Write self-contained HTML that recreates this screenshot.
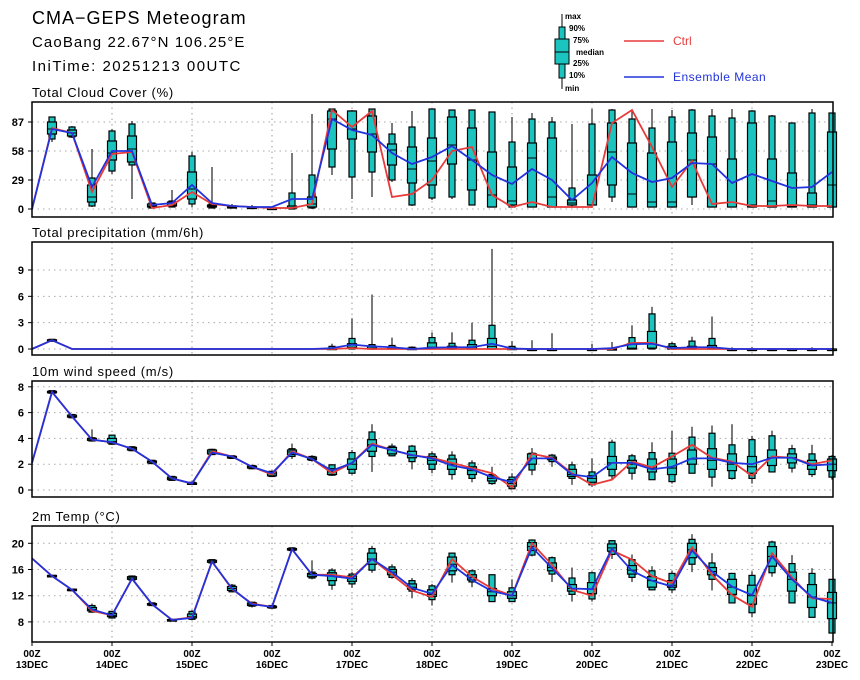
<!DOCTYPE html>
<html><head><meta charset="utf-8"><style>
body{margin:0;background:#fff;width:860px;height:680px;overflow:hidden}
svg{display:block;font-family:"Liberation Sans",sans-serif}
</style></head><body>
<svg id="c" width="860" height="680" viewBox="0 0 860 680">
<text x="32" y="24" font-size="18" letter-spacing="1">CMA−GEPS Meteogram</text>
<text x="32" y="47" font-size="15" letter-spacing="1.1">CaoBang 22.67°N 106.25°E</text>
<text x="32" y="71" font-size="15" letter-spacing="1.5">IniTime: 20251213 00UTC</text>
<g font-size="8" font-weight="bold">
<line x1="562" y1="14" x2="562" y2="89" stroke="#000"/>
<rect x="559" y="27" width="6" height="51" fill="#1cc4c0" stroke="#000"/>
<rect x="555" y="39" width="14" height="25" fill="#1cc4c0" stroke="#000"/>
<line x1="555" y1="52" x2="569" y2="52" stroke="#000"/>
<text x="565" y="19">max</text><text x="569" y="31">90%</text><text x="573" y="43">75%</text>
<text x="576" y="55">median</text><text x="573" y="66">25%</text><text x="569" y="78">10%</text><text x="565" y="91">min</text>
<line x1="624" y1="41" x2="664" y2="41" stroke="#e83a3a" stroke-width="1.5"/>
<text x="673" y="45" font-size="12" font-weight="normal" fill="#e83a3a">Ctrl</text>
<line x1="624" y1="77" x2="664" y2="77" stroke="#2233dd" stroke-width="1.5"/>
<text x="673" y="81" font-size="12" font-weight="normal" fill="#2233dd" letter-spacing="0.5">Ensemble Mean</text>
</g>
</svg>
<script>
const days=["13DEC","14DEC","15DEC","16DEC","17DEC","18DEC","19DEC","20DEC","21DEC","22DEC","23DEC"];
const cloudTicks=[0,29,58,87];
const precipTicks=[0,3,6,9];
const windTicks=[0,2,4,6,8];
const tempTicks=[8,12,16,20];
const cloudCtrl=[0,81,76,17,55,57,1,4,17,5,3,2,1,1,5,99,82,98,12,15,29,58,62,14,2,7,2,2,2,86,99,62,22,48,5,7,3,3,4,3,3];
const cloudMean=[0,80,76,22,58,58,4,6,24,6,3,2,2,10,10,90,79,74,56,45,52,63,49,34,25,40,29,9,26,52,36,27,31,46,45,26,35,28,21,22,37];
const cloudMin=[null,67,71,2,35,10,1,2,2,1,1,1,0,0,0,34,10,12,27,3,9,10,4,2,2,2,2,2,2,7,2,2,2,4,2,2,2,2,2,2,2];
const cloudP10=[null,70,72,3,38,44,1,2,5,1,1,1,0,0,1,42,32,37,29,4,11,12,4,2,2,2,2,4,4,12,2,2,2,12,2,2,2,2,2,2,2];
const cloudP25=[null,75,73,7,49,47,2,3,10,2,1,1,1,1,2,60,70,57,44,26,24,45,19,2,4,2,2,4,4,24,2,2,2,12,2,2,2,2,2,2,2];
const cloudMed=[null,80,76,12,56,60,3,4,20,3,2,1,1,1,5,90,80,75,59,40,48,64,49,14,8,51,12,6,4,57,15,7,7,49,45,2,4,8,3,4,24];
const cloudP75=[null,87,79,24,68,73,5,7,37,4,3,2,1,3,12,98,98,93,65,62,71,92,81,57,42,66,71,9,34,86,66,56,67,76,72,50,86,50,36,16,77];
const cloudP90=[null,92,82,31,78,85,6,8,53,5,3,2,1,16,34,100,98,100,75,82,100,99,99,97,67,90,87,21,85,99,90,81,92,99,93,91,98,93,86,96,96];
const cloudMax=[null,92,83,60,80,88,6,19,57,42,5,4,1,56,95,100,99,100,86,98,100,99,99,97,92,96,92,85,100,100,99,100,99,100,100,100,99,94,86,100,96];
const precipCtrl=[0,1.0,0,0,0,0,0,0,0,0,0,0,0,0,0,0,0.1,0,0,0,0,0,0,0,0,0,0,0,0,0,0.7,0.7,0,0,0,0,0,0,0,0,0];
const precipMean=[0,1.0,0,0,0,0,0,0,0,0,0,0,0,0,0,0.1,0.5,0.3,0.2,0,0.15,0.2,0.2,0.6,0.05,0,0,0,0,0.1,0.55,0.6,0.1,0.2,0.2,0,0,0,0,0,0];
const precipMin=[null,0.85,0,0,0,0,0,0,0,0,0,0,0,0,0,0,0,0,0,0,0,0,0,0,0,0,0,0,0,0,0,0,0,0,0,0,0,0,0,0,0];
const precipP10=[null,0.9,0,0,0,0,0,0,0,0,0,0,0,0,0,0,0,0,0,0,0,0,0,0,0,0,0,0,0,0,0,0,0,0,0,0,0,0,0,0,0];
const precipP25=[null,0.95,0,0,0,0,0,0,0,0,0,0,0,0,0,0,0.1,0,0,0,0.1,0,0,0,0,0,0,0,0,0,0,0.1,0,0,0,0,0,0,0,0,0];
const precipMed=[null,1.0,0,0,0,0,0,0,0,0,0,0,0,0,0,0,0.2,0.1,0.1,0,0.2,0.1,0.2,0.3,0,0,0,0,0,0,0.1,0.6,0.1,0.1,0.1,0,0,0,0,0,0];
const precipP75=[null,1.05,0,0,0,0,0,0,0,0,0,0,0,0,0,0.1,0.6,0.3,0.2,0.1,0.7,0.3,0.5,1.2,0.1,0,0,0,0,0.05,0.6,2.0,0.3,0.3,0.4,0,0,0,0,0,0];
const precipP90=[null,1.1,0,0,0,0,0,0,0,0,0,0,0,0,0,0.3,1.2,0.5,0.4,0.2,1.3,0.65,1.0,2.7,0.3,0,0,0,0,0.1,1.3,4.0,0.6,0.9,1.2,0,0,0,0,0,0];
const precipMax=[null,1.15,0,0,0,0,0,0,0,0,0,0,0,0,0,0.6,3.5,6.2,1.3,0.3,1.9,1.9,3.0,11.4,0.9,1.0,1.8,0,0.6,0.8,2.7,4.8,0.8,1.4,3.7,0.2,0.2,0.1,0.1,0.2,0.1];
const windCtrl=[2.1,7.6,5.7,3.9,3.7,3.2,2.2,0.9,0.5,3.0,2.6,1.8,1.2,3.0,2.4,1.3,2.1,3.6,3.1,2.7,2.5,2.1,1.7,1.3,0.2,2.8,2.5,1.3,0.4,0.8,2.2,1.75,2.6,3.5,2.5,2.2,1.1,2.6,2.5,2.0,2.3];
const windMean=[2.1,7.6,5.7,3.9,3.7,3.2,2.2,0.9,0.5,2.9,2.6,1.8,1.3,2.9,2.4,1.5,2.1,3.5,3.1,2.7,2.45,1.9,1.6,1.0,0.6,2.45,2.45,1.2,1.0,2.1,2.1,1.6,1.8,2.45,2.45,2.1,2.0,2.5,2.5,1.9,2.0];
const windMin=[null,7.5,5.55,3.75,3.5,3.0,2.0,0.7,0.4,2.7,2.4,1.6,1.0,2.4,2.2,1.1,1.2,1.4,2.6,1.6,1.3,0.8,0.6,0.4,0.05,1.15,1.8,0.4,0.25,0.8,0.8,0.8,0.5,1.3,0.25,0.8,0.5,1.4,1.35,1.0,0.8];
const windP10=[null,7.5,5.6,3.8,3.55,3.05,2.05,0.75,0.45,2.75,2.45,1.65,1.05,2.6,2.3,1.15,1.3,2.6,2.65,2.2,1.6,1.2,0.9,0.5,0.1,1.55,2.2,0.9,0.4,1.1,1.3,0.8,0.65,1.3,1.0,0.9,0.9,1.4,1.7,1.2,1.0];
const windP25=[null,7.55,5.65,3.85,3.65,3.1,2.1,0.8,0.5,2.8,2.5,1.7,1.1,2.75,2.35,1.2,1.6,3.0,2.8,2.5,2.0,1.6,1.2,0.7,0.3,2.0,2.35,1.05,0.6,1.6,1.7,1.4,1.2,2.0,1.6,1.5,1.3,1.9,2.1,1.6,1.5];
const windMed=[null,7.6,5.7,3.9,3.75,3.2,2.2,0.9,0.5,2.95,2.55,1.8,1.25,2.95,2.45,1.4,2.0,3.5,3.1,2.7,2.3,2.0,1.5,0.9,0.5,2.45,2.45,1.2,0.9,2.1,2.0,1.7,1.7,2.4,2.3,2.0,1.8,2.5,2.5,1.9,2.0];
const windP75=[null,7.65,5.8,4.0,4.0,3.3,2.25,1.0,0.55,3.1,2.6,1.85,1.4,3.1,2.55,1.65,2.4,3.9,3.3,3.0,2.6,2.4,1.8,1.1,0.8,2.8,2.55,1.6,1.1,2.6,2.3,2.4,2.4,3.1,3.2,2.8,2.6,3.1,2.8,2.3,2.4];
const windP90=[null,7.7,5.85,4.05,4.25,3.35,2.3,1.05,0.6,3.15,2.65,1.9,1.45,3.2,2.6,1.95,2.9,4.5,3.4,3.4,2.8,2.7,2.1,1.2,1.0,2.85,2.7,1.95,1.4,3.7,2.65,2.9,2.85,4.1,4.4,3.5,3.9,4.2,3.2,2.8,2.6];
const windMax=[null,7.7,5.9,4.7,4.3,3.4,2.35,1.1,0.65,3.2,2.7,1.95,1.5,3.6,2.7,2.0,3.1,5.1,3.6,3.5,3.0,3.0,2.3,1.8,1.3,3.25,2.8,2.2,2.45,3.9,2.8,3.7,4.6,4.9,5.0,5.1,4.2,4.6,3.5,3.5,2.7];
const tempCtrl=[17.7,15.0,12.9,9.7,9.0,14.6,10.7,8.3,8.7,17.2,13.0,10.8,10.3,19.1,15.2,15.2,14.8,17.6,15.2,12.8,11.8,17.6,14.9,13.1,12.0,20.0,16.7,12.9,12.0,18.9,17.5,15.0,13.9,19.4,15.2,12.1,10.3,18.5,14.8,11.6,11.5];
const tempMean=[17.7,15.0,12.9,9.9,9.0,14.6,10.7,8.3,8.6,17.2,13.1,10.7,10.3,19.1,15.2,15.0,14.6,17.6,15.6,13.2,12.3,16.7,14.4,12.7,12.0,19.4,16.2,13.1,13.0,19.2,15.8,14.3,13.4,18.9,15.7,13.4,12.1,18.0,14.5,11.8,10.9];
const tempMin=[null,14.9,12.8,9.4,8.5,14.3,10.4,8.2,8.3,16.9,12.5,10.2,10.1,18.9,14.5,12.9,13.2,15.5,14.6,11.6,10.5,14.0,13.3,11.1,11.1,18.0,14.1,11.1,11.1,17.6,14.1,12.8,12.4,15.6,12.8,10.8,8.7,14.9,10.9,8.7,6.3];
const tempP10=[null,14.9,12.8,9.5,8.6,14.4,10.5,8.2,8.4,17.0,12.6,10.4,10.1,18.9,14.7,13.6,13.8,15.9,14.8,12.7,11.4,15.2,14.1,11.1,11.1,18.2,15.3,12.2,11.5,18.3,14.8,12.9,12.9,16.8,14.5,10.9,9.4,15.5,10.9,8.7,6.3];
const tempP25=[null,15.0,12.9,9.7,8.8,14.5,10.6,8.25,8.6,17.1,12.8,10.5,10.2,19.0,14.9,14.3,14.2,16.8,15.2,13.0,11.9,15.8,14.4,12.0,11.6,18.9,15.8,12.7,12.3,18.8,15.3,13.3,13.3,17.8,15.2,12.2,10.7,16.5,12.7,10.2,8.5];
const tempMed=[null,15.0,12.9,9.9,9.0,14.7,10.7,8.3,8.8,17.2,13.1,10.7,10.3,19.1,15.2,15.0,14.6,17.6,15.6,13.3,12.2,16.8,14.8,12.6,12.0,19.5,16.3,13.1,13.0,19.3,15.9,14.3,13.6,19.0,15.7,13.3,12.0,18.0,14.5,11.8,10.9];
const tempP75=[null,15.1,13.0,10.2,9.3,14.9,10.8,8.35,9.2,17.4,13.4,10.9,10.4,19.2,15.4,15.5,15.0,18.5,16.0,13.8,12.9,17.9,15.2,13.1,12.6,20.1,17.0,13.7,14.0,19.9,16.6,14.9,14.3,20.0,16.3,14.5,13.6,19.5,15.6,13.7,12.5];
const tempP90=[null,15.1,13.0,10.5,9.6,15.0,10.9,8.4,9.6,17.5,13.6,11.0,10.5,19.3,15.6,15.9,15.3,19.2,16.4,14.3,13.5,18.5,15.8,15.2,13.2,20.5,17.8,14.7,15.5,20.4,17.5,15.8,15.4,20.6,17.0,15.4,15.1,20.2,16.9,15.4,14.5];
const tempMax=[null,15.2,13.1,10.8,9.7,15.1,11.0,8.4,9.8,17.6,13.8,11.1,10.5,19.4,17.4,16.2,15.6,19.6,16.8,14.7,13.8,18.6,16.0,15.2,14.5,20.6,18.0,16.3,15.7,20.5,18.3,16.5,15.8,21.4,18.5,15.5,15.7,20.4,18.2,16.2,14.5];

const NS="http://www.w3.org/2000/svg";
const svg=document.getElementById('c');
const X0=32,DX=20;
function xAt(i){return X0+DX*i;}
function el(t,a,p){const e=document.createElementNS(NS,t);for(const k in a)e.setAttribute(k,a[k]);(p||svg).appendChild(e);return e;}
const panels=[
 {name:'cloud',title:'Total Cloud Cover (%)',top:102,bot:217,y0:209,k:1.0,v0:0,ticks:cloudTicks,ctrl:cloudCtrl,mean:cloudMean,st:[cloudMin,cloudP10,cloudP25,cloudMed,cloudP75,cloudP90,cloudMax]},
 {name:'precip',title:'Total precipitation (mm/6h)',top:242,bot:355,y0:349,k:8.78,v0:0,ticks:precipTicks,ctrl:precipCtrl,mean:precipMean,st:[precipMin,precipP10,precipP25,precipMed,precipP75,precipP90,precipMax]},
 {name:'wind',title:'10m wind speed (m/s)',top:381,bot:497,y0:490,k:12.9,v0:0,ticks:windTicks,ctrl:windCtrl,mean:windMean,st:[windMin,windP10,windP25,windMed,windP75,windP90,windMax]},
 {name:'temp',title:'2m Temp (°C)',top:526,bot:642,y0:543.3,k:6.55,v0:20,ticks:tempTicks,ctrl:tempCtrl,mean:tempMean,st:[tempMin,tempP10,tempP25,tempMed,tempP75,tempP90,tempMax]}
];
panels.forEach(p=>{
 const g=el('g',{});
 
 
 const yAt=v=>Math.max(p.top,p.y0-(v-p.v0)*p.k);
 const t=el('text',{x:32,y:p.top-5,'font-size':13,'letter-spacing':0.7},g);t.textContent=p.title;
 
 
 for(let d=1;d<days.length-1;d++){const l=el('line',{x1:xAt(d*4),x2:xAt(d*4),y1:p.top,y2:p.bot,stroke:'#999','stroke-dasharray':'1.5,4'},g);
  
  }
 p.ticks.forEach(v=>{const y=yAt(v);
  const l=el('line',{x1:X0,x2:833,y1:y,y2:y,stroke:'#aaa','stroke-dasharray':'1.5,4'},g);
  
  
  el('line',{x1:X0-4,x2:X0,y1:y,y2:y,stroke:'#000'},g);
  const tx=el('text',{x:X0-8,y:y+4,'font-size':11,'font-weight':'bold','text-anchor':'end'},g);tx.textContent=v;
  
  });
 const [mn,p10,p25,md,p75,p90,mx]=p.st;
 for(let i=0;i<mn.length;i++){ if(mn[i]===null||mx[i]<=mn[i]&&p.name==='precip')continue;
  const x=xAt(i);const bg=el('g',{},g);
  
  
  el('line',{x1:x,x2:x,y1:yAt(mx[i]),y2:yAt(mn[i]),stroke:'#222','stroke-width':1.2},bg);
  const h1=Math.max(1.5,yAt(p10[i])-yAt(p90[i]));
  el('rect',{x:x-3,y:yAt(p90[i]),width:6,height:h1,fill:'#1cc4c0',stroke:'#000','stroke-width':1.2},bg);
  const h2=Math.max(1.5,yAt(p25[i])-yAt(p75[i]));
  el('rect',{x:x-4.5,y:yAt(p75[i]),width:9,height:h2,fill:'#1cc4c0',stroke:'#000','stroke-width':1.2},bg);
  el('line',{x1:x-4.5,x2:x+4.5,y1:yAt(md[i]),y2:yAt(md[i]),stroke:'#000'},bg);
 }
 const pts=a=>a.map((v,i)=>xAt(i)+','+yAt(v)).join(' ');
 const lc=el('polyline',{points:pts(p.ctrl),fill:'none',stroke:'#e83a3a','stroke-width':1.8},g);
 
 
 const lm=el('polyline',{points:pts(p.mean),fill:'none',stroke:'#2233dd','stroke-width':1.8},g);
 
 
 const fr=el('rect',{x:X0,y:p.top,width:833-X0,height:p.bot-p.top,fill:'none',stroke:'#000','stroke-width':1.5},g);
 
 
});
days.forEach((d,k)=>{const x=xAt(k*4);
 el('line',{x1:x,x2:x,y1:642,y2:646,stroke:'#000'});
 const a=el('text',{x:x,y:657,'font-size':10,'font-weight':'bold','text-anchor':'middle'});a.textContent='00Z';
 
 
 const b=el('text',{x:x,y:668,'font-size':10,'font-weight':'bold','text-anchor':'middle'});b.textContent=d;
 
 });
</script>
</body></html>
